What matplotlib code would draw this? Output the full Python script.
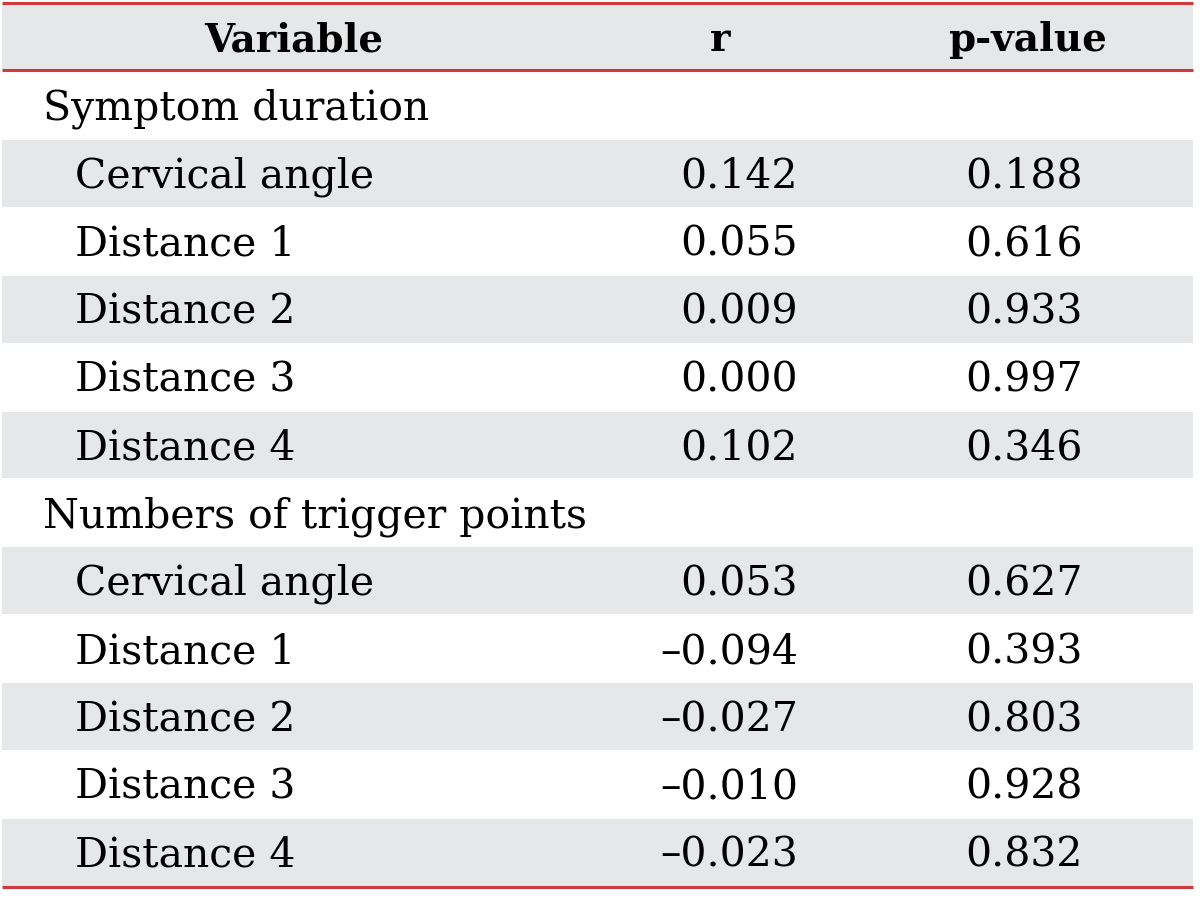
import matplotlib.pyplot as plt
from matplotlib.patches import Rectangle

# Datos de la tabla
headers = ['Variable', 'r', 'p-value']
groups = ['Symptom duration', 'Numbers of trigger points']
variables = ['Cervical angle', 'Distance 1', 'Distance 2', 'Distance 3', 'Distance 4']
r_symptom = ['0.142', '0.055', '0.009', '0.000', '0.102']
p_symptom = ['0.188', '0.616', '0.933', '0.997', '0.346']
r_trigger = ['0.053', '\u20130.094', '\u20130.027', '\u20130.010', '\u20130.023']
p_trigger = ['0.627', '0.393', '0.803', '0.928', '0.832']

W, H = 1200, 903
fig = plt.figure(figsize=(W / 100, H / 100), dpi=100)
ax = fig.add_axes([0, 0, 1, 1])
ax.set_xlim(0, W)
ax.set_ylim(H, 0)
ax.axis('off')

gray = '#e6e7e9'
red = '#cf3a3f'
fuente = 'DejaVu Serif'
fs = 29.5
fs_cab = 28

x0, x1 = 2, 1193
top = 5
header_h = 66
row_top = 73
row_h = 67.9

# Encabezado
ax.add_patch(Rectangle((x0, top), x1 - x0, header_h, color=gray, lw=0))
ycab = top + header_h / 2 + 2
ax.text(294, ycab, headers[0], ha='center', va='center', fontsize=fs_cab, fontweight='bold', family=fuente)
ax.text(720, ycab, headers[1], ha='center', va='center', fontsize=fs_cab, fontweight='bold', family=fuente)
ax.text(1028, ycab, headers[2], ha='center', va='center', fontsize=fs_cab, fontweight='bold', family=fuente)

# Filas
filas = []
for g, rs, ps in zip(groups, [r_symptom, r_trigger], [p_symptom, p_trigger]):
    filas.append((g, None, None, True))
    for v, r, p in zip(variables, rs, ps):
        filas.append((v, r, p, False))

for i, (lab, r, p, es_grupo) in enumerate(filas):
    y = row_top + i * row_h
    if i % 2 == 1:
        ax.add_patch(Rectangle((x0, y), x1 - x0, row_h - 1, color=gray, lw=0))
    yc = y + row_h / 2 + 2
    ax.text(43 if es_grupo else 75, yc, lab, ha='left', va='center', fontsize=fs, family=fuente)
    if r is not None:
        ax.text(798, yc, r, ha='right', va='center', fontsize=fs, family=fuente)
        ax.text(1024, yc, p, ha='center', va='center', fontsize=fs, family=fuente)

# Lineas rojas
y_fin = row_top + len(filas) * row_h
for yl in [4, 71, y_fin]:
    ax.plot([x0, x1], [yl, yl], color=red, lw=2.2, solid_capstyle='butt')

plt.savefig('out.png', dpi=100)
